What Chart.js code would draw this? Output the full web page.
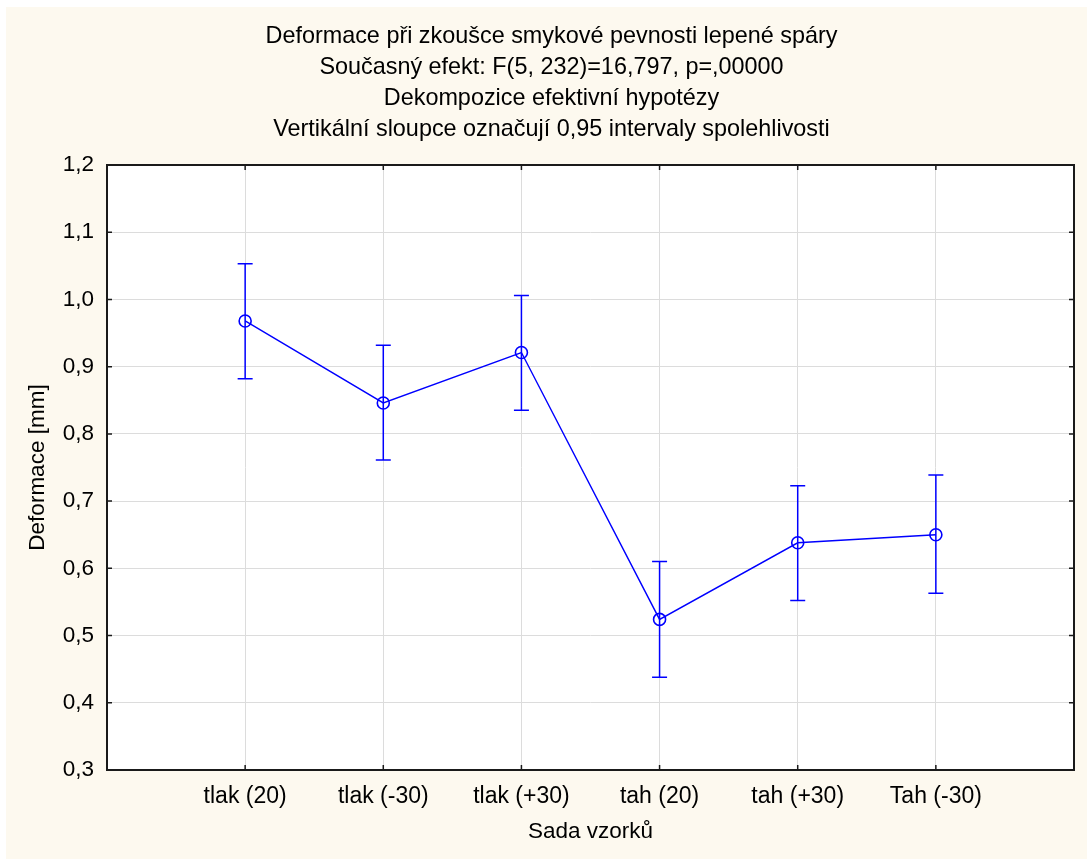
<!DOCTYPE html>
<html>
<head>
<meta charset="utf-8">
<script src="https://cdn.jsdelivr.net/npm/chart.js@4"></script>
<style>
  html, body { margin: 0; padding: 0; background: #ffffff; }
  canvas { display: block; }
</style>
</head>
<body>
<canvas id="chartCanvas" width="1087" height="859"></canvas>
<script>
// Data
const categories = ['tlak (20)', 'tlak (-30)', 'tlak (+30)', 'tah (20)', 'tah (+30)', 'Tah (-30)'];
const means = [0.968, 0.846, 0.921, 0.524, 0.638, 0.650];
const lower = [0.882, 0.761, 0.835, 0.438, 0.552, 0.563];
const upper = [1.053, 0.932, 1.006, 0.610, 0.723, 0.739];
const yTicks = [0.3, 0.4, 0.5, 0.6, 0.7, 0.8, 0.9, 1.0, 1.1, 1.2];

const titleLines = [
    'Deformace při zkoušce smykové pevnosti lepené spáry',
    'Současný efekt: F(5, 232)=16,797, p=,00000',
    'Dekompozice efektivní hypotézy',
    'Vertikální sloupce označují 0,95 intervaly spolehlivosti'
];

const blue = '#0000ff';
const fontFamily = '"Liberation Sans", Arial, sans-serif';

// empty slot on each side so the points sit one step in from the frame
const labels = [''].concat(categories, ['']);
const padded = [null].concat(means, [null]);

// cream page, error bars, frame and inward ticks
const statPlugin = {
    id: 'statPlugin',
    beforeDraw(chart) {
        const ctx = chart.ctx;
        ctx.save();
        ctx.fillStyle = '#fdf9ef';
        ctx.fillRect(6, 7, chart.width - 6, chart.height - 7);
        const a = chart.chartArea;
        ctx.fillStyle = '#ffffff';
        ctx.fillRect(a.left, a.top, a.right - a.left, a.bottom - a.top);
        ctx.restore();
    },
    afterDatasetsDraw(chart) {
        const ctx = chart.ctx;
        const xs = chart.scales.x;
        const ys = chart.scales.y;
        ctx.save();
        ctx.strokeStyle = blue;
        ctx.lineWidth = 1.5;
        for (let i = 0; i < means.length; i++) {
            const x = xs.getPixelForValue(i + 1);
            const yl = ys.getPixelForValue(lower[i]);
            const yu = ys.getPixelForValue(upper[i]);
            ctx.beginPath();
            ctx.moveTo(x, yu);
            ctx.lineTo(x, yl);
            ctx.moveTo(x - 7.5, yu);
            ctx.lineTo(x + 7.5, yu);
            ctx.moveTo(x - 7.5, yl);
            ctx.lineTo(x + 7.5, yl);
            ctx.stroke();
        }
        ctx.restore();
    },
    afterDraw(chart) {
        const ctx = chart.ctx;
        const a = chart.chartArea;
        const xs = chart.scales.x;
        const ys = chart.scales.y;
        ctx.save();
        ctx.strokeStyle = '#1a1a1a';
        ctx.lineWidth = 1.5;
        ctx.beginPath();
        yTicks.forEach(function(v) {
            const y = ys.getPixelForValue(v);
            ctx.moveTo(a.left, y);
            ctx.lineTo(a.left + 5, y);
            ctx.moveTo(a.right, y);
            ctx.lineTo(a.right - 5, y);
        });
        for (let i = 1; i <= categories.length; i++) {
            const x = xs.getPixelForValue(i);
            ctx.moveTo(x, a.top);
            ctx.lineTo(x, a.top + 5);
            ctx.moveTo(x, a.bottom);
            ctx.lineTo(x, a.bottom - 5);
        }
        ctx.stroke();
        ctx.lineWidth = 2;
        ctx.strokeRect(a.left, a.top, a.right - a.left, a.bottom - a.top);
        ctx.restore();
    }
};

const ctx = document.getElementById('chartCanvas').getContext('2d');
new Chart(ctx, {
    type: 'line',
    data: {
        labels: labels,
        datasets: [{
            label: 'Deformace',
            data: padded,
            borderColor: blue,
            borderWidth: 1.4,
            backgroundColor: 'rgba(0,0,0,0)',
            pointStyle: 'circle',
            pointRadius: 6,
            pointBorderWidth: 1.6,
            pointBorderColor: blue,
            pointBackgroundColor: 'rgba(0,0,0,0)',
            tension: 0
        }]
    },
    options: {
        responsive: false,
        animation: false,
        devicePixelRatio: 1,
        layout: {
            padding: { left: 22, top: 7, right: 6, bottom: 0 }
        },
        plugins: {
            legend: { display: false },
            tooltip: { enabled: false },
            title: {
                display: true,
                text: titleLines,
                color: '#000000',
                font: { family: fontFamily, size: 23.4, weight: 'normal', lineHeight: 31 / 23.4 },
                padding: { top: 14, bottom: 20 }
            }
        },
        scales: {
            x: {
                type: 'category',
                offset: false,
                afterFit: function(scale) { scale.height = 89; },
                grid: { color: '#dcdcdc', lineWidth: 1, drawTicks: false },
                border: { display: false },
                ticks: {
                    color: '#000000',
                    padding: 13,
                    maxRotation: 0,
                    autoSkip: false,
                    font: { family: fontFamily, size: 23 }
                },
                title: {
                    display: true,
                    text: 'Sada vzorků',
                    color: '#000000',
                    font: { family: fontFamily, size: 22.5 },
                    padding: { top: 0, bottom: 14 }
                }
            },
            y: {
                min: 0.3,
                max: 1.2,
                afterFit: function(scale) { scale.width = 85; },
                afterBuildTicks: function(scale) {
                    scale.ticks = yTicks.map(function(v) { return { value: v }; });
                },
                grid: { color: '#dcdcdc', lineWidth: 1, drawTicks: false },
                border: { display: false },
                ticks: {
                    color: '#000000',
                    padding: 13,
                    font: { family: fontFamily, size: 22.5 },
                    callback: function(v) { return v.toFixed(1).replace('.', ','); }
                },
                title: {
                    display: true,
                    text: 'Deformace [mm]',
                    color: '#000000',
                    font: { family: fontFamily, size: 22.5 },
                    padding: { top: 2, bottom: 0 }
                }
            }
        }
    },
    plugins: [statPlugin]
});
</script>
</body>
</html>
